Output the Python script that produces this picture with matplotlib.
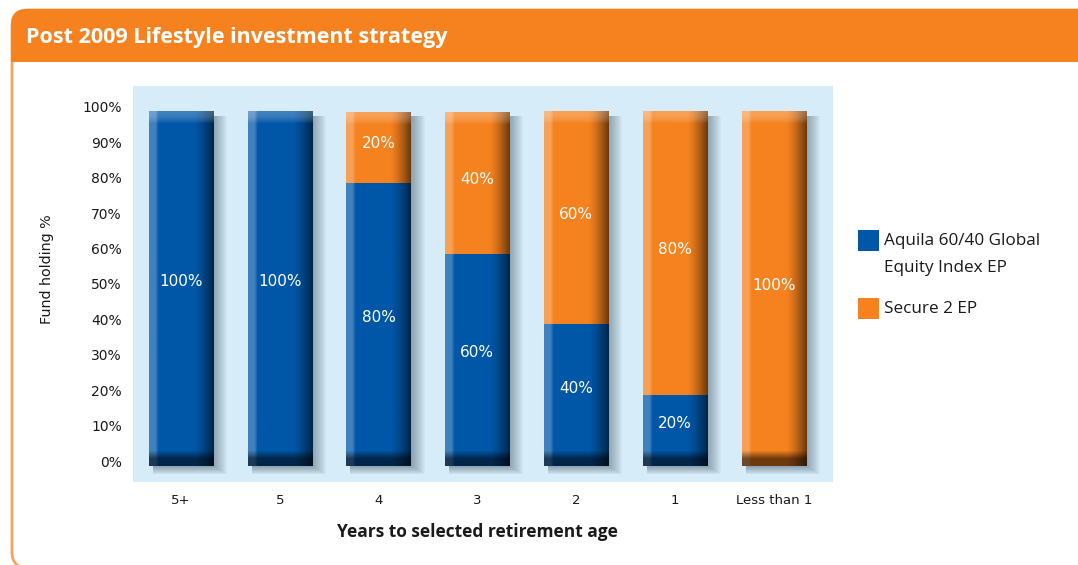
import numpy as np
import matplotlib
matplotlib.use('Agg')
import matplotlib.pyplot as plt
from matplotlib.patches import FancyBboxPatch, Rectangle
from matplotlib.transforms import ScaledTranslation
import matplotlib.colors as mcolors

# ---------------- data ----------------
categories = ['5+', '5', '4', '3', '2', '1', 'Less than 1']
aquila = [100, 100, 80, 60, 40, 20, 0]
secure = [0, 0, 20, 40, 60, 80, 100]
series_names = ['Aquila 60/40 Global\nEquity Index EP', 'Secure 2 EP']
yticks = [0, 10, 20, 30, 40, 50, 60, 70, 80, 90, 100]
ytick_labels = ['0%', '10%', '20%', '30%', '40%', '50%', '60%', '70%', '80%', '90%', '100%']
title = 'Post 2009 Lifestyle investment strategy'
xlabel = 'Years to selected retirement age'
ylabel = 'Fund holding %'

# ---------------- style ----------------
BLUE = '#0057a8'
ORANGE = '#f5821f'
BG = '#d6ecf9'
FRAME = '#f7a45a'
TEXT = '#1a1a1a'
W, H = 1078, 565

fig = plt.figure(figsize=(W / 100, H / 100), dpi=100)

# overlay (pixel coordinates) for frame / header / legend
ov = fig.add_axes([0, 0, 1, 1], zorder=0)
ov.set_xlim(0, W)
ov.set_ylim(H, 0)
ov.axis('off')

frame = FancyBboxPatch((12, 10), 1200, 558, boxstyle='round,pad=0,rounding_size=16',
                       facecolor='white', edgecolor=FRAME, linewidth=2.0)
ov.add_patch(frame)
header = FancyBboxPatch((11, 9), 1200, 53, boxstyle='round,pad=0,rounding_size=16',
                        facecolor=ORANGE, edgecolor='none')
ov.add_patch(header)
ov.add_patch(Rectangle((11, 40), 1200, 22, facecolor=ORANGE, edgecolor='none'))
ov.text(26, 37, title, color='white', fontsize=15.5, fontweight='bold',
        family=['Open Sans', 'DejaVu Sans'], ha='left', va='center')

# legend (manual, from series names/colours)
series_colors = [BLUE, ORANGE]
leg_y = [230, 298]
for name, col, yy in zip(series_names, series_colors, leg_y):
    ov.add_patch(Rectangle((858, yy), 21, 21, facecolor=col, edgecolor='none'))
    ov.text(884, yy + 3, name, fontsize=12.3, color=TEXT, ha='left', va='top',
            linespacing=1.95, family=['Open Sans', 'DejaVu Sans'])

fig.text(47 / W, 1 - 269 / H, ylabel, rotation=90, fontsize=10.3, color=TEXT,
         ha='center', va='center')
fig.text(477 / W, 1 - 532 / H, xlabel, fontsize=12.5, fontweight='bold', color=TEXT,
         ha='center', va='center', family=['Open Sans', 'DejaVu Sans'])

# ---------------- main axes ----------------
ax = fig.add_axes([133 / W, 1 - 482 / H, 700 / W, 396 / H], zorder=1)
ax.set_facecolor(BG)
for s in ax.spines.values():
    s.set_visible(False)

x = np.arange(len(categories))
bw = 0.65
b1 = ax.bar(x, aquila, width=bw, color=BLUE, zorder=3)
b2 = ax.bar(x, secure, width=bw, bottom=aquila, color=ORANGE, zorder=3)

XLIM = (-0.486, 6.6)
YLIM = (-4.5, 107.3)
px_x = (XLIM[1] - XLIM[0]) / 700.0
px_y = (YLIM[1] - YLIM[0]) / 396.0

totals = [a + s for a, s in zip(aquila, secure)]

# soft drop shadow behind each stack
for xi, tot in zip(x, totals):
    x0 = xi - bw / 2
    for k in range(1, 15):
        ax.add_patch(Rectangle((x0 + 4 * px_x, -k * 0.6 * px_y),
                               bw + k * 1.0 * px_x - 4 * px_x, tot - 4 * px_y + k * 0.6 * px_y,
                               facecolor='#203040', edgecolor='none', alpha=0.03, zorder=2))


def shade(patch, is_top, is_bottom):
    x0, y0 = patch.get_x(), patch.get_y()
    w, h = patch.get_width(), patch.get_height()
    if h <= 0:
        return
    base = np.array(mcolors.to_rgb(patch.get_facecolor()))
    ncol = 64
    nrow = max(int(round(h / px_y)), 2)
    u = (np.arange(ncol) + 0.5) / ncol
    hf = np.ones((ncol, 3)) * base
    # lighter left strip, softly fading
    lt = np.clip((0.15 - u) / 0.05, 0, 1)
    hf = hf * (1 - 0.25 * lt[:, None]) + 0.25 * lt[:, None]
    t = np.clip((u - 0.68) / 0.32, 0, 1)
    dark = 1 - 0.58 * t ** 1.4
    hf = hf * dark[:, None]
    img = np.repeat(hf[None, :, :], nrow, axis=0)
    if is_top:
        cap = 12
        for r in range(min(cap, nrow)):
            a = 0.25 * (1 - (r / cap) ** 2)
            img[r] = img[r] * (1 - a) + a
    if is_bottom:
        for r in range(nrow):
            db = nrow - 1 - r
            if db < 7:
                f = 0.45
            elif db < 15:
                f = 0.45 + 0.55 * (db - 7) / 8
            else:
                continue
            img[r] = img[r] * f
    ax.imshow(img, extent=(x0, x0 + w, y0, y0 + h), origin='upper', aspect='auto',
              interpolation='bilinear', zorder=3.5)


for i in range(len(categories)):
    p1, p2 = b1[i], b2[i]
    has_top2 = secure[i] > 0
    shade(p1, is_top=not has_top2, is_bottom=True)
    shade(p2, is_top=True, is_bottom=aquila[i] == 0)

# value labels
for i in range(len(categories)):
    if aquila[i] > 0:
        ax.text(x[i], aquila[i] / 2 + 2, f'{aquila[i]}%', color='white', fontsize=11,
                ha='center', va='center', zorder=5)
    if secure[i] > 0:
        ax.text(x[i], aquila[i] + secure[i] / 2 + 1, f'{secure[i]}%', color='white',
                fontsize=11, ha='center', va='center', zorder=5)

ax.set_xlim(*XLIM)
ax.set_ylim(*YLIM)
ax.set_xticks(x)
ax.set_xticklabels(categories, fontsize=9.5, color=TEXT)
ax.set_yticks(yticks)
ax.set_yticklabels(ytick_labels, fontsize=10, color=TEXT)
ax.tick_params(axis='both', length=0)
ax.tick_params(axis='y', pad=8)
ax.tick_params(axis='x', pad=9)
for lbl in ax.get_yticklabels():
    lbl.set_transform(lbl.get_transform() + ScaledTranslation(0, 5 / 100, fig.dpi_scale_trans))

fig.savefig('out.png', dpi=100)
